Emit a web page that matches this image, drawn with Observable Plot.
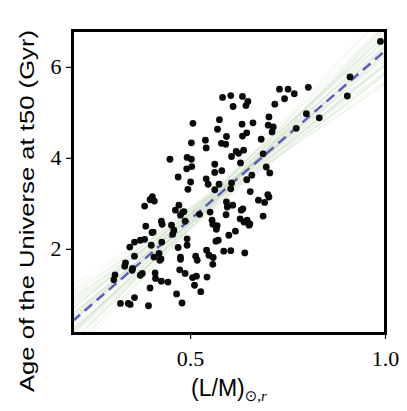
<!DOCTYPE html>
<html>
<head>
<meta charset="utf-8">
<script src="https://cdn.jsdelivr.net/npm/d3@7"></script>
<script src="https://cdn.jsdelivr.net/npm/@observablehq/plot@0.6"></script>
<style>
  html, body { margin: 0; padding: 0; background: white; }
</style>
</head>
<body>
<div id="chart"></div>
<script>
// Observed galaxies: mass-to-light proxy (L/M) vs age of the Universe at t50 (Gyr)
const lm = [
  0.987, 0.909, 0.902, 0.802, 0.728, 0.750, 0.766, 0.741, 0.716, 0.797,
  0.830, 0.771, 0.701, 0.699, 0.712, 0.709, 0.681, 0.686, 0.694, 0.703,
  0.657, 0.582, 0.603, 0.633, 0.647, 0.642, 0.609, 0.506, 0.574, 0.569,
  0.632, 0.660, 0.592, 0.633, 0.644, 0.538, 0.579, 0.590, 0.502, 0.540,
  0.617, 0.623, 0.636, 0.605, 0.628, 0.447, 0.491, 0.502, 0.490, 0.503,
  0.562, 0.562, 0.580, 0.468, 0.500, 0.493, 0.540, 0.545, 0.573, 0.562,
  0.605, 0.603, 0.644, 0.653, 0.402, 0.396, 0.407, 0.382, 0.674, 0.690,
  0.698, 0.701, 0.592, 0.594, 0.608, 0.591, 0.634, 0.630, 0.550, 0.555,
  0.557, 0.568, 0.566, 0.480, 0.474, 0.486, 0.523, 0.425, 0.427, 0.451,
  0.457, 0.454, 0.385, 0.404, 0.401, 0.426, 0.627, 0.637, 0.645, 0.652,
  0.650, 0.686, 0.615, 0.598, 0.571, 0.565, 0.491, 0.491, 0.468, 0.356,
  0.371, 0.382, 0.344, 0.399, 0.406, 0.419, 0.421, 0.424, 0.356, 0.333,
  0.331, 0.351, 0.350, 0.376, 0.371, 0.306, 0.303, 0.474, 0.474, 0.513,
  0.517, 0.541, 0.547, 0.558, 0.557, 0.585, 0.603, 0.639, 0.472, 0.486,
  0.505, 0.515, 0.510, 0.542, 0.409, 0.410, 0.425, 0.442, 0.396, 0.356,
  0.320, 0.340, 0.345, 0.392, 0.464, 0.478, 0.526, 0.461, 0.470, 0.483
];
const age = [
  6.57, 5.79, 5.37, 5.56, 5.52, 5.52, 5.42, 5.31, 5.19, 4.98,
  4.89, 4.66, 4.91, 4.73, 4.69, 4.58, 4.42, 4.10, 3.81, 3.68,
  3.63, 5.34, 5.38, 5.36, 5.25, 5.16, 5.14, 4.77, 4.85, 4.64,
  4.75, 4.78, 4.48, 4.49, 4.56, 4.40, 4.33, 4.31, 4.34, 4.23,
  4.15, 4.11, 4.18, 4.04, 3.90, 3.98, 4.02, 3.98, 3.77, 3.82,
  3.87, 3.69, 3.73, 3.59, 3.48, 3.32, 3.55, 3.43, 3.43, 3.31,
  3.46, 3.33, 3.53, 3.27, 3.16, 3.09, 3.06, 2.95, 3.08, 3.03,
  3.20, 3.15, 3.04, 2.93, 2.97, 2.76, 2.89, 2.86, 2.82, 2.64,
  2.55, 2.52, 2.44, 2.82, 2.75, 2.62, 2.77, 2.62, 2.55, 2.53,
  2.42, 2.33, 2.51, 2.38, 2.37, 2.16, 2.67, 2.60, 2.64, 2.56,
  2.53, 2.73, 2.40, 2.31, 2.20, 2.18, 2.23, 2.09, 2.04, 2.16,
  2.20, 2.22, 2.05, 2.09, 1.83, 1.91, 1.76, 1.79, 1.85, 1.70,
  1.63, 1.58, 1.54, 1.47, 1.43, 1.44, 1.33, 1.83, 1.78, 1.85,
  1.76, 1.98, 1.87, 1.82, 1.67, 1.96, 1.97, 1.92, 1.55, 1.47,
  1.38, 1.41, 1.21, 1.39, 1.48, 1.36, 1.30, 1.28, 1.15, 0.94,
  0.81, 0.81, 0.79, 0.76, 1.02, 0.82, 1.07, 2.86, 2.97, 2.83
];

// Best-fit relation (dashed) and posterior sample relations (faint green)
const fitSlope = 7.41;
const fitIntercept = -1.04;
const pivotX = 0.55;
const sampleSlope = [7.4, 6.7, 8.1, 6.9, 7.9, 6.2, 8.6, 7.2, 7.6, 6.5, 8.3, 7.0, 7.8, 5.9, 8.9, 6.8, 8.0, 7.3, 7.5, 6.4,
  8.4, 7.1, 7.7, 6.6, 8.2, 5.7, 9.2, 6.95, 7.85, 6.75, 8.05, 6.1, 8.7, 7.4, 7.25, 7.55, 6.3, 8.5, 7.05, 7.75,
  6.0, 8.8, 6.85, 7.95, 5.6, 9.4, 7.35, 7.45, 6.55, 8.25];
const sampleMid = [3.04, 3.14, 2.94, 3.16, 2.90, 3.08, 2.98, 3.22, 2.86, 3.12, 3.07, 2.93, 3.17, 3.00, 2.92, 3.24, 3.01, 2.84, 3.13, 3.19,
  2.97, 3.09, 3.23, 2.89, 3.03, 3.06, 3.10, 2.94, 3.20, 2.99, 2.85, 3.15, 3.02, 3.28, 2.80, 3.08, 3.00, 3.16, 3.05, 2.95,
  3.21, 2.91, 3.12, 3.03, 3.18, 2.97, 3.10, 2.98, 2.90, 3.19];

const xDomain = [0.197, 1.0];
const yDomain = [0.15, 6.81];
const xTicks = [0.5, 1.0];
const yTicks = [2, 4, 6];

const points = lm.map((x, i) => ({x, y: age[i]}));
const samples = sampleSlope.map((b, i) => ({
  x1: xDomain[0], y1: sampleMid[i] + b * (xDomain[0] - pivotX),
  x2: xDomain[1], y2: sampleMid[i] + b * (xDomain[1] - pivotX)
}));
const fit = [{
  x1: xDomain[0], y1: fitIntercept + fitSlope * xDomain[0],
  x2: xDomain[1], y2: fitIntercept + fitSlope * xDomain[1]
}];

const tickFont = "'Liberation Serif', 'DejaVu Serif', serif";

const svg = Plot.plot({
  width: 407,
  height: 411,
  marginLeft: 72,
  marginRight: 22,
  marginTop: 30,
  marginBottom: 78,
  style: {fontFamily: tickFont, fontSize: "22px", background: "white", color: "black"},
  x: {domain: xDomain},
  y: {domain: yDomain},
  marks: [
    Plot.link(samples, {x1: "x1", y1: "y1", x2: "x2", y2: "y2", stroke: "#a9c99a", strokeOpacity: 0.2, strokeWidth: 1, clip: true}),
    Plot.link(fit, {x1: "x1", y1: "y1", x2: "x2", y2: "y2", stroke: "#5f5cc0", strokeWidth: 2.5, strokeDasharray: "10,6", clip: true}),
    Plot.dot(points, {x: "x", y: "y", r: 3.4, fill: "#0a0a0a", stroke: "none"}),
    Plot.axisX({ticks: xTicks, tickFormat: d => d.toFixed(1), tickSize: 6, tickPadding: 11, label: null, fontSize: 22, fontFamily: tickFont, textAnchor: "middle", strokeWidth: 1.2}),
    Plot.axisY({ticks: yTicks, tickFormat: d => String(d), tickSize: 6, tickPadding: 5, label: null, fontSize: 22, fontFamily: tickFont, textAnchor: "end", strokeWidth: 1.2}),
    Plot.frame({stroke: "black", strokeWidth: 3})
  ]
});

const s = d3.select(svg);
// y-axis label
s.append("text")
  .attr("transform", "translate(34,211) rotate(-90)")
  .attr("text-anchor", "middle")
  .attr("font-family", "'Liberation Sans', sans-serif")
  .attr("font-size", 21)
  .attr("textLength", 362)
  .attr("lengthAdjust", "spacingAndGlyphs")
  .text("Age of the Universe at t50 (Gyr)");
// x-axis label with subscript
const xl = s.append("text")
  .attr("x", 229)
  .attr("y", 396)
  .attr("text-anchor", "middle")
  .attr("font-family", "'Liberation Sans', sans-serif")
  .attr("font-size", 23);
xl.append("tspan").text("(L/M)");
xl.append("tspan").attr("font-size", 15).attr("dy", 5).attr("font-family", "'DejaVu Sans', sans-serif").text("\u2299");
xl.append("tspan").attr("font-size", 15).attr("font-family", "'Liberation Serif', serif").text(",");
xl.append("tspan").attr("font-size", 15).attr("font-style", "italic").attr("font-family", "'Liberation Serif', serif").text("r");

document.getElementById("chart").appendChild(svg);
</script>
</body>
</html>
